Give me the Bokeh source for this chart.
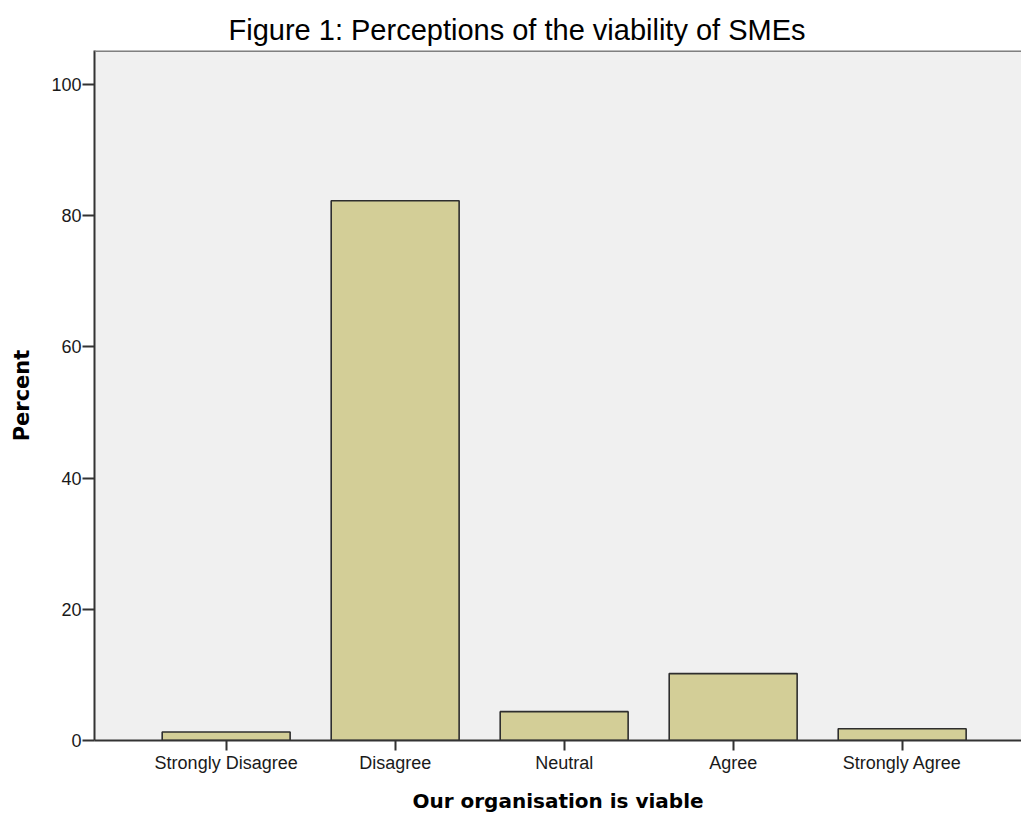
from bokeh.plotting import figure
from bokeh.models import Range1d, FixedTicker, Span
from bokeh.embed import file_html
from bokeh.resources import INLINE

categories = ["Strongly Disagree", "Disagree", "Neutral", "Agree", "Strongly Agree"]
percent = [1.3, 82.3, 4.4, 10.2, 1.8]
y_ticks = [0, 20, 40, 60, 80, 100]
title_text = "Figure 1: Perceptions of the viability of SMEs"
x_label = "Our organisation is viable"
y_label = "Percent"

positions = list(range(len(categories)))

p = figure(width=1021, height=815, output_backend="svg", toolbar_location=None,
           x_range=Range1d(-0.779, 4.706), y_range=Range1d(0, 105.2),
           min_border_left=94, min_border_right=0, min_border_top=50, min_border_bottom=75)

p.title.text = title_text
p.title.align = "left"
p.title.offset = 134
p.title.text_font = "Liberation Sans"
p.title.text_font_size = "29px"
p.title.text_font_style = "normal"
p.title.text_color = "#000000"
p.title.standoff = 10

p.background_fill_color = "#F0F0F0"
p.border_fill_color = "#FFFFFF"
p.outline_line_color = None
p.grid.visible = False

p.vbar(x=positions, top=percent, bottom=0, width=0.757,
       fill_color="#D3CE97", line_color="#2E2E2E", line_width=1.6)

p.add_layout(Span(location=105.2, dimension="width", line_color="#808080", line_width=3))

for ax in (p.xaxis[0], p.yaxis[0]):
    ax.axis_line_color = "#333333"
    ax.axis_line_width = 2
    ax.major_tick_line_color = "#333333"
    ax.major_tick_line_width = 2
    ax.major_tick_in = 0
    ax.minor_tick_line_color = None
    ax.major_label_text_font = "Liberation Sans"
    ax.major_label_text_font_size = "18px"
    ax.major_label_text_color = "#1A1A1A"
    ax.axis_label_text_font = "DejaVu Sans"
    ax.axis_label_text_font_style = "bold"
    ax.axis_label_text_color = "#000000"

p.xaxis[0].axis_label_text_font_size = "20px"
p.yaxis[0].axis_label_text_font_size = "21px"

p.xaxis[0].ticker = FixedTicker(ticks=positions)
p.xaxis[0].major_label_overrides = {i: c for i, c in zip(positions, categories)}
p.xaxis[0].major_tick_out = 10
p.xaxis[0].major_label_standoff = 2
p.xaxis[0].axis_label = x_label
p.xaxis[0].axis_label_standoff = 13

p.yaxis[0].ticker = FixedTicker(ticks=y_ticks)
p.yaxis[0].major_tick_out = 12
p.yaxis[0].major_label_standoff = 1
p.yaxis[0].axis_label = y_label
p.yaxis[0].axis_label_standoff = 14

open("out.html", "w").write(file_html(p, INLINE))
